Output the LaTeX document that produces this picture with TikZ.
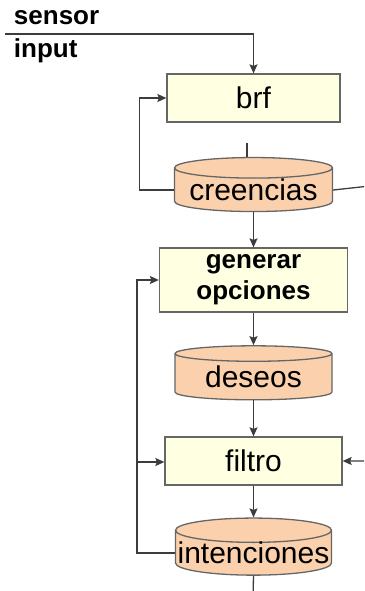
\documentclass[tikz,border=0pt]{standalone}
\usepackage{fontspec}
\setmainfont{Liberation Sans}
\usetikzlibrary{arrows.meta,shapes.geometric}
\definecolor{cream}{RGB}{255,255,226}
\definecolor{peach}{RGB}{250,209,172}
\definecolor{wire}{RGB}{60,60,60}

\begin{document}
\begin{tikzpicture}[x=1pt,y=1pt,->,>={Stealth[length=9pt,width=8pt,inset=1.5pt]},
                    line width=1.3pt,draw=wire,node distance=92pt]
\tikzstyle{proc}=[rectangle,draw=black!60,fill=cream,line width=1.3pt,inner sep=0pt]
\tikzstyle{store}=[cylinder,shape border rotate=90,aspect=0.16,draw=black!60,
                   cylinder uses custom fill,cylinder body fill=peach,cylinder end fill=peach,
                   line width=1.3pt,inner sep=0pt,text height=20pt,text depth=0pt,minimum height=54pt]
\tikzset{font=\fontsize{30}{32}\selectfont}

  \useasboundingbox (0,0) rectangle (364,-591);
  \clip (0,0) rectangle (364,-591);

        \node[anchor=west,font=\bfseries\fontsize{26}{28}\selectfont] (sensor) at (10,-18) {sensor};
        \node[anchor=west,font=\bfseries\fontsize{26}{28}\selectfont] (input)  at (10,-51) {input};

        \node[proc,minimum width=173pt,minimum height=48pt]               (brf) at (253.5,-98) {brf};
        \node[store,minimum width=158pt]                                  (cre) [below of=brf] {creencias};
        \node[proc,minimum width=188pt,minimum height=64pt,align=center,
              font=\bfseries\fontsize{26}{31}\selectfont,node distance=90pt] (gen) [below of=cre] {generar\\opciones};
        \node[store,minimum width=157pt,node distance=97pt]               (des) [below of=gen] {deseos};
        \node[proc,minimum width=177pt,minimum height=48pt,node distance=84pt]  (fil) [below of=des] {filtro};
        \node[store,minimum width=156pt,minimum height=52pt,node distance=92pt] (int) [below of=fil] {intenciones};

        \coordinate (sIn)  at (5,-34);
        \coordinate (gap)  at (247,-143);
        \coordinate (rgt)  at (370,-186);
        \coordinate (bend) at (137,-462);
        \coordinate (out)  at (253,-600);

        % sensor input
        \draw (sIn) -| (brf.north);
        % creencias loops
        \draw[-] (gap) -- (gap |- cre.north);
        \draw (cre.west) -- ++(-34,0) |- (brf.west);
        \draw (cre.east) -- (rgt) |- (fil.east);
        % main column
        \draw (cre.south) -- (gen.north);
        \draw (gen.south) -- (des.north);
        \draw (des.south) -- (fil.north);
        \draw (fil.south) -- (int.north);
        \draw[-] (int.south) -- (out);
        % intenciones loop
        \draw (int.west) -| (bend) |- (gen.west);
        \draw (bend) -- (bend -| fil.west);

\end{tikzpicture}
\end{document}
